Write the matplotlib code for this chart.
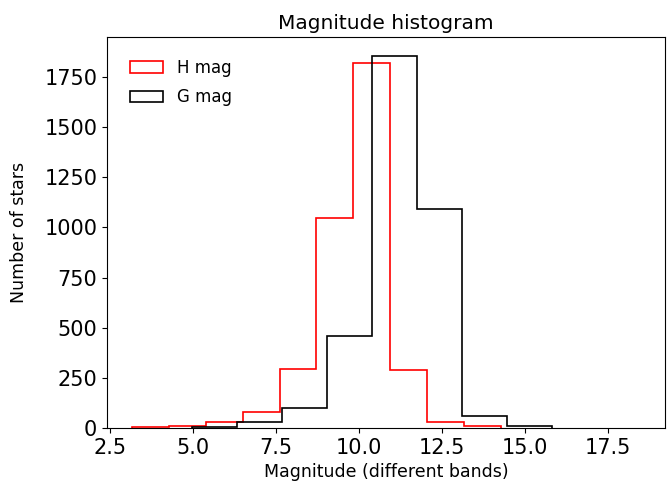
import numpy as np
import matplotlib
matplotlib.use("Agg")
import matplotlib.pyplot as plt
from matplotlib.ticker import MultipleLocator

# bin edges and counts
h_edges = np.linspace(3.18, 14.28, 11)
h_counts = [3, 10, 32, 81, 294, 1045, 1818, 289, 31, 8]

g_edges = np.linspace(4.98, 15.82, 9)
g_counts = [7, 31, 101, 460, 1856, 1092, 61, 10]

fig = plt.figure(figsize=(6.67, 4.83), dpi=100)
ax = fig.add_axes([0.1604, 0.1139, 0.8366, 0.8095])

ax.hist(h_edges[:-1], bins=h_edges, weights=h_counts, histtype="step",
        color="red", linewidth=1.2, label="H mag")
ax.hist(g_edges[:-1], bins=g_edges, weights=g_counts, histtype="step",
        color="black", linewidth=1.2, label="G mag")

ax.set_xlim(2.42, 19.23)
ax.xaxis.set_major_locator(MultipleLocator(2.5))

ax.set_title("Magnitude histogram", fontsize=14.5)
ax.set_xlabel("Magnitude (different bands)", fontsize=12.5)
ax.set_ylabel("Number of stars", fontsize=12.5)
ax.yaxis.set_label_coords(-0.142, 0.5)
ax.tick_params(labelsize=15)
ax.legend(loc="upper left", frameon=False, fontsize=12, labelspacing=0.7,
          bbox_to_anchor=(0.029, 0.962), borderaxespad=0)

fig.savefig("out.png", dpi=100)
